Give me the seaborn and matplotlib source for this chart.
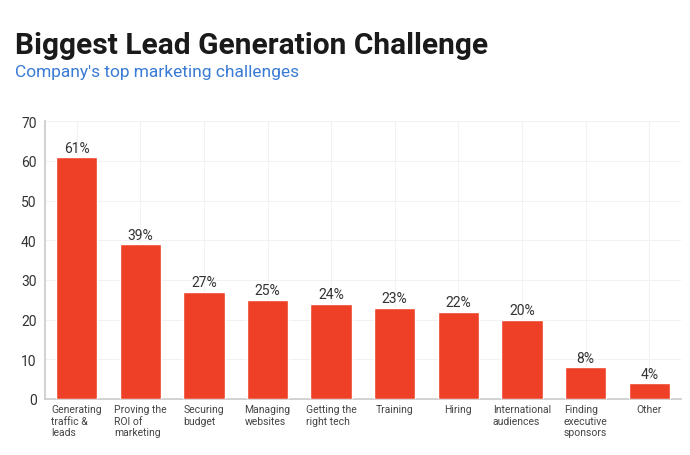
import matplotlib
matplotlib.use("Agg")
import matplotlib.pyplot as plt
import seaborn as sns
import pandas as pd

categories = ["Generating\ntraffic &\nleads", "Proving the\nROI of\nmarketing", "Securing\nbudget",
              "Managing\nwebsites", "Getting the\nright tech", "Training", "Hiring",
              "International\naudiences", "Finding\nexecutive\nsponsors", "Other"]
values = [61, 39, 27, 25, 24, 23, 22, 20, 8, 4]
yticks = [0, 10, 20, 30, 40, 50, 60, 70]

sns.set_theme(style="white")
plt.rcParams['font.family'] = ['Roboto', 'DejaVu Sans']

df = pd.DataFrame({"cat": categories, "val": values})
fig = plt.figure(figsize=(6.9, 4.56), dpi=100)
ax = fig.add_axes([0.065, 0.123, 0.922, 0.609])
sns.barplot(data=df, x="cat", y="val", color="#EE4027", saturation=1, width=0.65, ax=ax, zorder=3)

ax.set_ylim(0, 70)
ax.set_xlim(-0.5, len(categories) - 0.5)
ax.set_yticks(yticks)
ax.grid(True, color="#f2f2f2", linewidth=0.8, zorder=0)
ax.set_axisbelow(True)
for s in ["top", "right"]:
    ax.spines[s].set_visible(False)
ax.spines["left"].set_color("#cccccc")
ax.spines["bottom"].set_color("#cccccc")
ax.set_xlabel("")
ax.set_ylabel("")
ax.tick_params(axis="y", labelsize=10, colors="#333333", length=0, pad=6)
ax.tick_params(axis="x", labelsize=7.5, colors="#444444", length=0, pad=4)
for lab in ax.get_xticklabels():
    lab.set_horizontalalignment("center")
    lab.set_multialignment("left")
    lab.set_verticalalignment("top")
    lab.set_linespacing(1.15)

for i, v in enumerate(values):
    ax.text(i, v + 0.6, f"{v}%", ha="center", va="bottom", fontsize=10, color="#333333", zorder=4)

fig.text(0.022, 0.9, "Biggest Lead Generation Challenge", fontsize=21.5, fontweight="bold", color="#1a1a1a", ha="left", va="center")
fig.text(0.022, 0.842, "Company's top marketing challenges", fontsize=12.5, color="#3a7bd5", ha="left", va="center")

fig.savefig("out.png", dpi=100, facecolor="white")
